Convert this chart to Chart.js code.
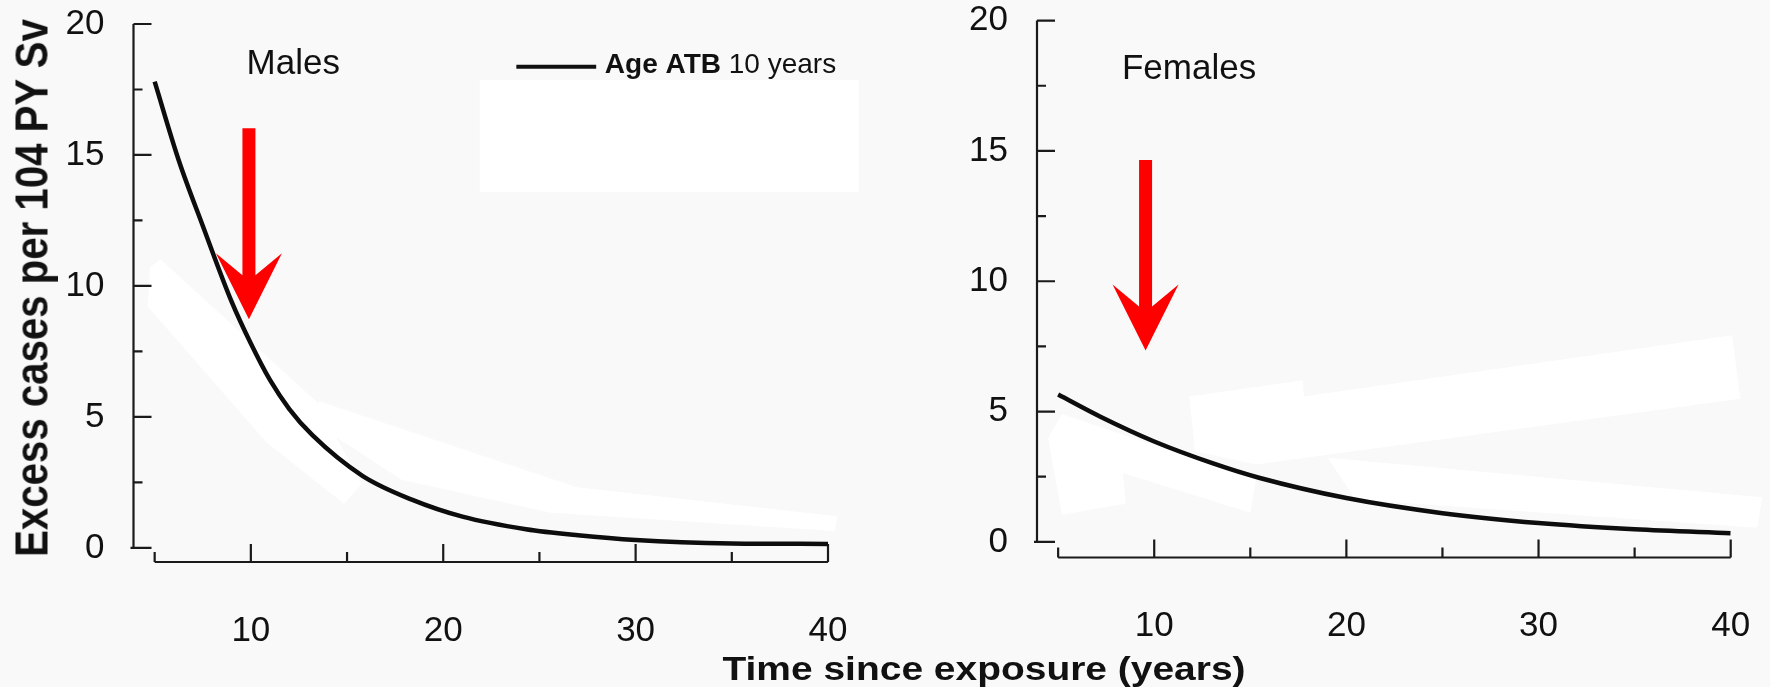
<!DOCTYPE html>
<html>
<head>
<meta charset="utf-8">
<script src="https://cdn.jsdelivr.net/npm/chart.js@4.4.1/dist/chart.umd.min.js"></script>
<style>
  html, body { margin: 0; padding: 0; background: #f9f9f9; }
  #wrap { position: relative; width: 1770px; height: 687px; overflow: hidden; }
  #wrap canvas { position: absolute; top: 0; }
  .axis-title {
    position: absolute; color: #111; white-space: nowrap;
    font-family: 'Liberation Sans', Arial, sans-serif; font-weight: bold;
  }
  #xtitle {
    left: 984px; top: 652px; font-size: 33px; line-height: 33px;
    transform: translateX(-50%) scaleX(1.18);
  }
  #ytitle {
    left: 31px; top: 288px; font-size: 47px; line-height: 47px;
    transform: translate(-50%, -50%) rotate(-90deg) scaleX(0.855);
  }
</style>
</head>
<body>
<div id="wrap">
  <canvas id="males" width="885" height="687" style="left:0"></canvas>
  <canvas id="females" width="885" height="687" style="left:885px"></canvas>
  <div id="ytitle" class="axis-title">Excess cases per 104 PY Sv</div>
  <div id="xtitle" class="axis-title">Time since exposure (years)</div>
</div>
<script>
// values (time since exposure, excess cases)
const maleYears = [5, 6.25, 7.5, 9, 10, 11, 12, 13.2, 15.8, 18.4, 21, 24.3, 27, 30, 35, 40];
const maleExcess = [17.8, 14.8, 12.3, 9.4, 7.8, 6.4, 5.3, 4.3, 2.75, 1.83, 1.19, 0.71, 0.48, 0.3, 0.17, 0.15];
const femaleYears = [5, 7.2, 10, 13.1, 15.5, 20, 25, 30, 35, 40];
const femaleExcess = [5.65, 4.8, 3.85, 3.0, 2.45, 1.68, 1.1, 0.72, 0.48, 0.33];

const xTickLabels = [10, 20, 30, 40];
const xMinorTicks = [5, 15, 25, 35];
const yTickLabels = [0, 5, 10, 15, 20];
const yMinorTicks = [2.5, 7.5, 12.5, 17.5];

const seriesLabel = 'Age ATB 10 years';

const ink = '#111111';
const fontFamily = "'Liberation Sans', Arial, sans-serif";

// axes are drawn detached (range-frame style) with inward ticks
const framePlugin = {
  id: 'frame',
  beforeDatasetsDraw(chart, args, o) {
    const { ctx, chartArea } = chart;
    const xs = chart.scales.x, ys = chart.scales.y;
    const px = v => xs.getPixelForValue(v), py = v => ys.getPixelForValue(v);

    // white patches that sit on the original scan
    ctx.save();
    ctx.fillStyle = '#ffffff';
    (o.masks || []).forEach(poly => {
      ctx.beginPath();
      poly.forEach(([a, b], i) => i ? ctx.lineTo(px(a), py(b)) : ctx.moveTo(px(a), py(b)));
      ctx.closePath();
      ctx.fill();
    });

    ctx.strokeStyle = '#1a1a1a';
    ctx.lineWidth = 2.2;
    ctx.beginPath();
    const ax = chartArea.left;
    ctx.moveTo(ax, py(20));
    ctx.lineTo(ax, py(0));
    yTickLabels.forEach(v => { ctx.moveTo(ax - (v === 0 ? 3 : 0), py(v)); ctx.lineTo(ax + 18, py(v)); });
    yMinorTicks.forEach(v => { ctx.moveTo(ax, py(v)); ctx.lineTo(ax + 9, py(v)); });
    const ay = chartArea.bottom;
    ctx.moveTo(px(5), ay);
    ctx.lineTo(px(40), ay);
    xTickLabels.forEach(v => { ctx.moveTo(px(v), ay); ctx.lineTo(px(v), ay - 18); });
    xMinorTicks.forEach(v => { ctx.moveTo(px(v), ay); ctx.lineTo(px(v), ay - 10); });
    ctx.stroke();
    ctx.restore();
  },
  afterDatasetsDraw(chart, args, o) {
    const { ctx } = chart;
    const xs = chart.scales.x, ys = chart.scales.y;
    const px = v => xs.getPixelForValue(v), py = v => ys.getPixelForValue(v);
    ctx.save();

    // red arrows
    ctx.fillStyle = '#ff0000';
    (o.arrows || []).forEach(a => {
      const cx = px(a.x), top = py(a.from), tip = py(a.to);
      ctx.beginPath();
      ctx.moveTo(cx - 6.5, top);
      ctx.lineTo(cx - 6.5, tip - 44);
      ctx.lineTo(cx - 33, tip - 66);
      ctx.lineTo(cx, tip);
      ctx.lineTo(cx + 33, tip - 66);
      ctx.lineTo(cx + 6.5, tip - 44);
      ctx.lineTo(cx + 6.5, top);
      ctx.closePath();
      ctx.fill();
    });

    // panel name
    ctx.fillStyle = ink;
    ctx.textBaseline = 'alphabetic';
    ctx.textAlign = 'left';
    if (o.panel) {
      ctx.font = '35px ' + fontFamily;
      ctx.fillText(o.panel.text, px(o.panel.x), py(o.panel.y));
    }

    // legend: line sample + "Age ATB" bold + "10 years"
    if (o.legend) {
      const L = o.legend;
      ctx.strokeStyle = ink;
      ctx.lineWidth = 4;
      ctx.beginPath();
      ctx.moveTo(px(L.x0), py(L.lineY));
      ctx.lineTo(px(L.x1), py(L.lineY));
      ctx.stroke();
      const parts = seriesLabel.split(' ');
      const bold = parts.slice(0, 2).join(' ') + ' ';
      const rest = parts.slice(2).join(' ');
      let tx = px(L.textX);
      const ty = py(L.textY);
      ctx.font = 'bold 28px ' + fontFamily;
      ctx.fillText(bold, tx, ty);
      tx += ctx.measureText(bold).width;
      ctx.font = '28px ' + fontFamily;
      ctx.fillText(rest, tx, ty);
    }
    ctx.restore();
  }
};

function makePanel(id, years, values, p) {
  const H = 687, W = 885;
  return new Chart(document.getElementById(id), {
    type: 'line',
    data: {
      datasets: [{
        label: seriesLabel,
        data: years.map((x, i) => ({ x, y: values[i] })),
        borderColor: '#0d0d0d',
        borderWidth: 4.5,
        pointRadius: 0,
        cubicInterpolationMode: 'monotone',
        fill: false
      }]
    },
    options: {
      responsive: false,
      animation: false,
      devicePixelRatio: 1,
      layout: { padding: { left: 0, top: p.top, right: W - p.right, bottom: 0 } },
      plugins: {
        legend: { display: false },
        tooltip: { enabled: false },
        frame: p.extras
      },
      scales: {
        x: {
          type: 'linear',
          min: 3.9,
          max: 40,
          grid: { display: false },
          border: { display: false },
          ticks: { color: ink, font: { size: 35, family: fontFamily }, padding: 40, maxRotation: 0, autoSkip: false },
          afterBuildTicks: s => { s.ticks = xTickLabels.map(v => ({ value: v })); },
          afterFit: s => { s.height = H - p.bottom; s.paddingLeft = 0; s.paddingRight = 0; }
        },
        y: {
          min: p.yMin,
          max: 20,
          grid: { display: false },
          border: { display: false },
          ticks: { color: ink, font: { size: 35, family: fontFamily }, padding: 21 },
          afterBuildTicks: s => { s.ticks = yTickLabels.map(v => ({ value: v })); },
          afterFit: s => { s.width = p.left; s.paddingTop = 0; s.paddingBottom = 0; }
        }
      }
    },
    plugins: [framePlugin]
  });
}

makePanel('males', maleYears, maleExcess, {
  left: 133.5, right: 828, top: 24, bottom: 562, yMin: -0.54,
  extras: {
    panel: { text: 'Males', x: 9.78, y: 18.11 },
    legend: { x0: 23.8, x1: 27.95, lineY: 18.37, textX: 28.4, textY: 18.12 },
    arrows: [{ x: 9.9, from: 16.02, to: 8.73 }],
    masks: [
      [[21.9, 17.86], [41.6, 17.86], [41.6, 13.6], [21.9, 13.6]],
      [[4.76, 10.71], [5.3, 11.02], [13.5, 5.52], [15.75, 2.43], [14.85, 1.68], [10.82, 4.02], [4.64, 9.21]],
      [[13.5, 5.61], [26.94, 2.31], [40.47, 1.21], [40.37, 0.64], [25.6, 1.34], [17.83, 2.6], [13.66, 4.6]]
    ]
  }
});

makePanel('females', femaleYears, femaleExcess, {
  left: 152, right: 845.7, top: 20.6, bottom: 557.5, yMin: -0.6,
  extras: {
    panel: { text: 'Females', x: 8.32, y: 17.76 },
    arrows: [{ x: 9.55, from: 14.65, to: 7.34 }],
    masks: [
      [[11.83, 5.58], [17.74, 6.2], [17.79, 5.58], [40.07, 7.93], [40.5, 5.49], [15.29, 2.97], [12.12, 3.48]],
      [[19.03, 3.23], [41.65, 1.71], [41.37, 0.54], [20.47, 1.63]],
      [[4.48, 3.98], [5.2, 4.91], [15.29, 2.39], [15.0, 1.12], [8.37, 2.64], [8.52, 1.46], [5.2, 1.04]]
    ]
  }
});
</script>
</body>
</html>
